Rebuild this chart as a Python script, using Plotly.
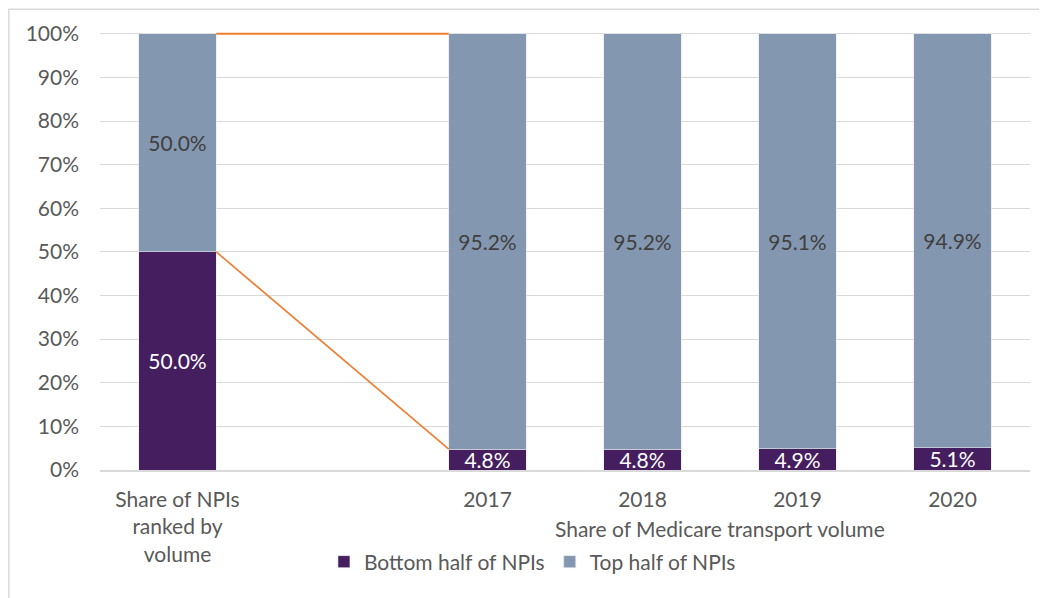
import plotly.graph_objects as go

# ── data ──
categories = ["Share of NPIs<br>ranked by<br>volume", "", "2017", "2018", "2019", "2020"]
bar_slots = [0, 2, 3, 4, 5]          # slot 1 is the empty gap
bottom_half = [50.0, 4.8, 4.8, 4.9, 5.1]
top_half = [50.0, 95.2, 95.2, 95.1, 94.9]
y_ticks = [0, 10, 20, 30, 40, 50, 60, 70, 80, 90, 100]
y_tick_labels = [f"{v}%" for v in y_ticks]

COLORS = {
    "bottom": "#441E5E",
    "top": "#8497B0",
    "link": "#ED7D31",
    "grid": "#D9D9D9",
    "text": "#595959",
}
FONT = "Lato, 'Open Sans', sans-serif"
FS = 21
BAR_W = 0.5

fig = go.Figure()

fig.add_trace(go.Bar(
    x=bar_slots, y=bottom_half, width=BAR_W,
    name="Bottom half of NPIs",
    marker=dict(color=COLORS["bottom"], line=dict(color="#E8E8EE", width=0.6)),
    texttemplate="%{y:.1f}%", textposition="inside", insidetextanchor="middle",
    textfont=dict(color="white", size=FS, family=FONT),
    constraintext="none",
))
fig.add_trace(go.Bar(
    x=bar_slots, y=top_half, width=BAR_W,
    name="Top half of NPIs",
    marker=dict(color=COLORS["top"], line=dict(color="#E8E8EE", width=0.6)),
    texttemplate="%{y:.1f}%", textposition="inside", insidetextanchor="middle",
    textfont=dict(color="#404040", size=FS, family=FONT),
    constraintext="none",
))

# ── series lines between first bar and 2017 bar ──
x_from = bar_slots[0] + BAR_W / 2
x_to = bar_slots[1] - BAR_W / 2
fig.add_trace(go.Scatter(
    x=[x_from, x_to],
    y=[bottom_half[0] + top_half[0], bottom_half[1] + top_half[1]],
    mode="lines", line=dict(color=COLORS["link"], width=1.8),
    showlegend=False, hoverinfo="skip",
))
fig.add_trace(go.Scatter(
    x=[x_from, x_to], y=[bottom_half[0], bottom_half[1]],
    mode="lines", line=dict(color=COLORS["link"], width=1.6),
    showlegend=False, hoverinfo="skip",
))

fig.add_annotation(
    x=sum(bar_slots[1:]) / len(bar_slots[1:]), xref="x",
    y=0, yref="paper", yshift=-58, yanchor="middle",
    text="Share of Medicare transport volume", showarrow=False,
    font=dict(size=FS, color=COLORS["text"], family=FONT),
)

# outer chart border
fig.add_shape(
    type="rect", xref="paper", yref="paper",
    x0=-0.098, x1=1.2, y0=-0.6, y1=1.052,
    line=dict(color=COLORS["grid"], width=1.5), layer="below",
)

fig.update_layout(
    width=1039, height=590,
    barmode="stack",
    plot_bgcolor="white", paper_bgcolor="white",
    font=dict(family=FONT, size=FS, color=COLORS["text"]),
    margin=dict(l=92, r=17, t=24, b=128),
    legend=dict(
        orientation="h", x=0.465, xanchor="center",
        y=-0.21, yanchor="middle",
        font=dict(size=FS, color=COLORS["text"]),
        itemwidth=30, traceorder="normal",
    ),
    showlegend=True,
)
fig.update_xaxes(
    range=[-0.5, 5.5],
    tickvals=list(range(len(categories))), ticktext=categories,
    showgrid=False, zeroline=False,
    showline=True, linecolor=COLORS["grid"], linewidth=1.5,
    ticks="", ticklabelstandoff=10,
)
fig.update_yaxes(
    range=[0, 100.4], tickvals=y_ticks, ticktext=y_tick_labels,
    showgrid=True, gridcolor=COLORS["grid"], gridwidth=1.2,
    zeroline=False, showline=False, ticks="", ticklabelstandoff=20,
)

fig.write_html("out.html")
